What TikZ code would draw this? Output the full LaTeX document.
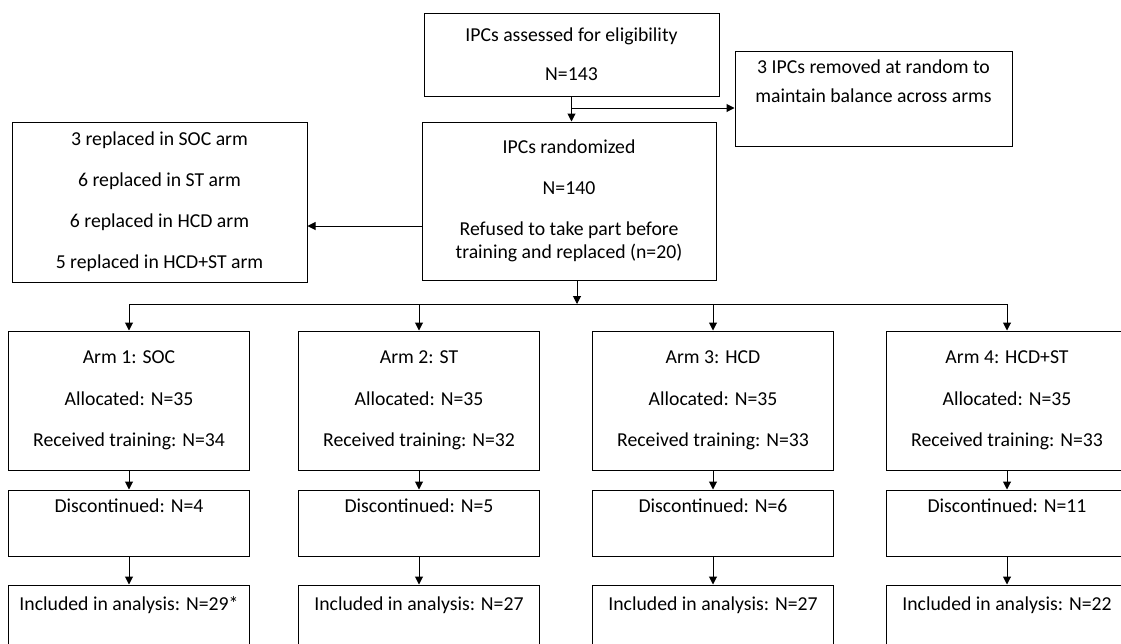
\documentclass[tikz,border=0pt]{standalone}
\usepackage{fontspec}
\setmainfont{Carlito}
\usetikzlibrary{arrows.meta}

\newcommand{\px}{0.75pt}

\begin{document}
\begin{tikzpicture}[x=0.75pt, y=-0.75pt, >={Triangle[length=6pt,width=6pt]}, line width=0.75pt,
    box/.style={draw, inner sep=0pt, align=center, font=\fontsize{14.8}{17.25}\selectfont},
    slim/.style={draw, inner sep=0pt, minimum width=241*\px, font=\fontsize{14.8}{17.25}\selectfont}]
    \useasboundingbox (0,0) rectangle (1121,643);
    \clip (0,0) rectangle (1121,643);
    % ---------------- top: assessment, removal and randomisation
    \node[box, minimum width=295*\px, minimum height=83*\px] (assessed) at (571.5,54.5) {IPCs assessed for eligibility\\[12pt]N=143};
    \node[box, minimum width=277*\px, text height=38.25pt, text depth=33pt] (removed) at (873.5,98.5) {3 IPCs removed at random to\\[4.5pt]maintain balance across arms};
    \node[box, minimum width=294*\px, minimum height=158*\px] (randomized) at (569,201) {IPCs randomized\\[13.5pt]N=140\\[14pt]Refused to take part before\\training and replaced (n=20)};
    \node[box, minimum width=295*\px, minimum height=160*\px] (replaced) at (159.5,202) {3 replaced in SOC arm\\[13.5pt]6 replaced in ST arm\\[13.5pt]6 replaced in HCD arm\\[13.5pt]5 replaced in HCD+ST arm};
    \draw[->] (assessed.south) -- (assessed.south |- randomized.north);
    \coordinate (split) at (571,108);
    \draw[->] (split) -- (split -| removed.west);
    \coordinate (refused) at (422,226);
    \draw[->] (refused) -- (refused -| replaced.east);
    \coordinate (fork) at (577,304);
    \draw[->] (randomized.south -| fork) -- (fork);
    % ---------------- the four arms
    \foreach \k/\x/\armname/\got/\lost/\kept in {1/129/SOC/34/4/29*, 2/419/ST/32/5/27, 3/713/HCD/33/6/27, 4/1007/HCD+ST/33/11/22}{
      \node[box, minimum width=241*\px, minimum height=139*\px] (arm\k) at (\x,400.5) {Arm \k: \armname\\[13.9pt]Allocated: N=35\\[13.9pt]Received training: N=\got};
      \node[slim, text height=16.5pt, text depth=33pt] (disc\k) at (\x,523) {Discontinued: N=\lost};
      \node[slim, text height=18.75pt, text depth=60pt] (incl\k) at (\x,637.5) {Included in analysis: N=\kept};
      \draw[->] (arm\k.north |- fork) -- (arm\k.north);
      \draw[->] (arm\k.south) -- (disc\k.north);
      \draw[->] (disc\k.south) -- (incl\k.north);
    }
    \draw (arm1.north |- fork) -- (arm4.north |- fork);
\end{tikzpicture}
\end{document}
